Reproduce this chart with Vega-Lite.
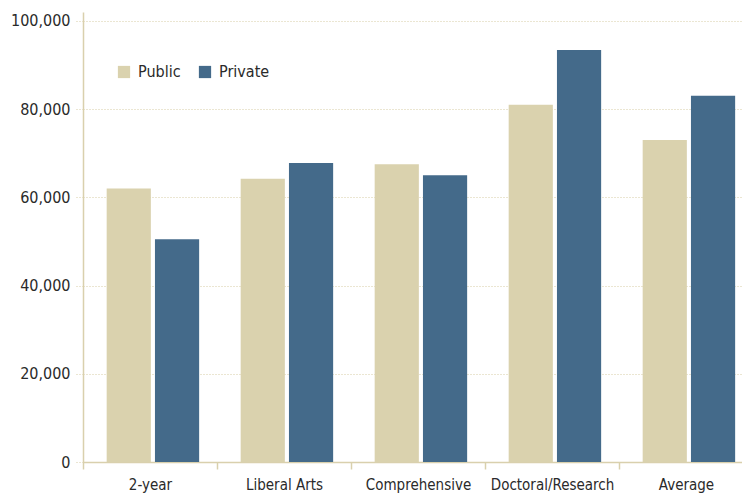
{
  "$schema": "https://vega.github.io/schema/vega-lite/v6.json",
  "autosize": {"type": "none"},
  "padding": {"left": 83, "top": 12, "right": 0, "bottom": 32},
  "width": 659,
  "height": 450,
  "background": "white",
  "config": {
    "view": {"stroke": null},
    "font": "DejaVu Sans Condensed",
    "axis": {"labelFont": "DejaVu Sans Condensed", "labelColor": "#2a2a2a"},
    "legend": {"labelFont": "DejaVu Sans Condensed"}
  },
  "data": {
    "values": [
      {"type": "2-year", "sector": "Public", "salary": 62000},
      {"type": "2-year", "sector": "Private", "salary": 50500},
      {"type": "Liberal Arts", "sector": "Public", "salary": 64200},
      {"type": "Liberal Arts", "sector": "Private", "salary": 67800},
      {"type": "Comprehensive", "sector": "Public", "salary": 67500},
      {"type": "Comprehensive", "sector": "Private", "salary": 65000},
      {"type": "Doctoral/Research", "sector": "Public", "salary": 81000},
      {"type": "Doctoral/Research", "sector": "Private", "salary": 93400},
      {"type": "Average", "sector": "Public", "salary": 73000},
      {"type": "Average", "sector": "Private", "salary": 83000}
    ]
  },
  "mark": {"type": "bar"},
  "encoding": {
    "x": {
      "field": "type",
      "type": "nominal",
      "sort": ["2-year", "Liberal Arts", "Comprehensive", "Doctoral/Research", "Average"],
      "scale": {"range": [0, 670], "paddingInner": 0, "paddingOuter": 0},
      "axis": {
        "title": null,
        "labelAngle": 0,
        "labelFontSize": 15,
        "labelPadding": 8,
        "domainColor": "#d9d0ad",
        "domainWidth": 1.5,
        "tickColor": "#d9d0ad",
        "tickWidth": 1.5,
        "tickSize": 7,
        "tickBand": "extent"
      }
    },
    "xOffset": {
      "field": "sector",
      "type": "nominal",
      "sort": ["Public", "Private"],
      "scale": {"paddingInner": 0.085, "paddingOuter": 0.43, "align": 0.57}
    },
    "y": {
      "field": "salary",
      "type": "quantitative",
      "scale": {"domain": [0, 102000], "nice": false},
      "axis": {
        "title": null,
        "values": [0, 20000, 40000, 60000, 80000, 100000],
        "format": ",d",
        "labelFontSize": 16,
        "labelPadding": 6,
        "domainColor": "#d9d0ad",
        "domainWidth": 1.5,
        "tickColor": "#d6cca4",
        "tickDash": [1, 2],
        "tickSize": 7,
        "gridColor": "#d6cca4",
        "gridDash": [1, 2],
        "gridWidth": 1
      }
    },
    "color": {
      "field": "sector",
      "type": "nominal",
      "sort": ["Public", "Private"],
      "scale": {"domain": ["Public", "Private"], "range": ["#dad2ae", "#446a8a"]},
      "legend": {
        "title": null,
        "orient": "none",
        "legendX": 33,
        "legendY": 52,
        "direction": "horizontal",
        "symbolType": "square",
        "symbolSize": 150,
        "symbolStrokeWidth": 0,
        "labelFontSize": 16,
        "labelColor": "#2a2a2a",
        "labelOffset": 6,
        "columnPadding": 16
      }
    }
  }
}
